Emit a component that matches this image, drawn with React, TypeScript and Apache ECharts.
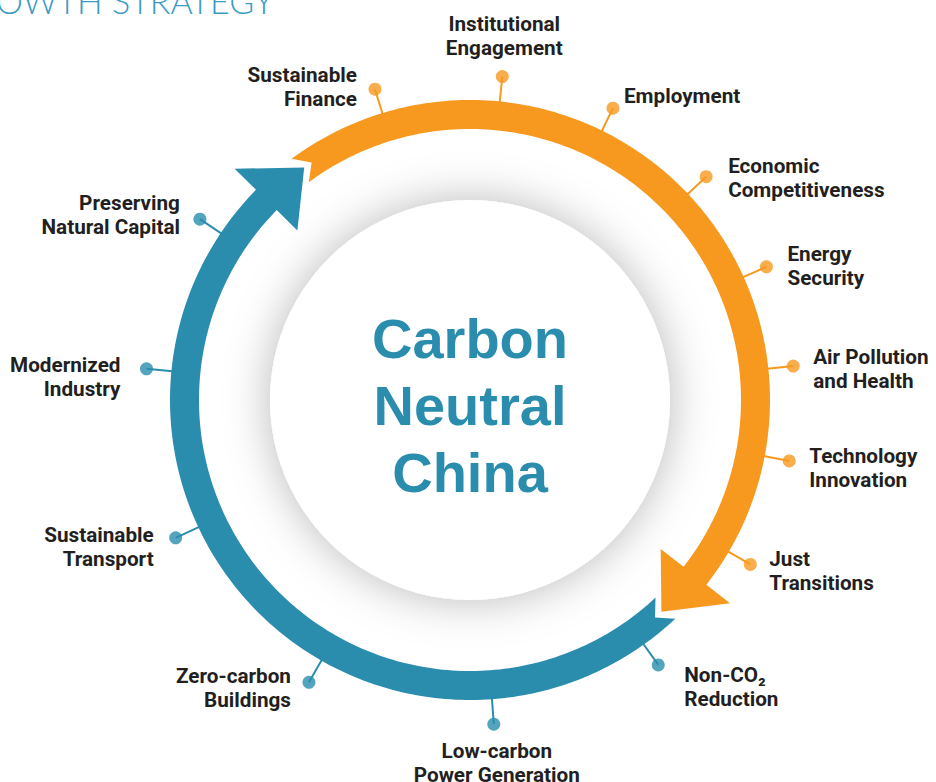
import React, { useEffect, useRef } from "react";
import * as echarts from "echarts";

// ---- data ----
const itemLabels = [
  "Institutional\nEngagement",
  "Employment",
  "Economic\nCompetitiveness",
  "Energy\nSecurity",
  "Air Pollution\nand Health",
  "Technology\nInnovation",
  "Just\nTransitions",
  "Non-CO₂\nReduction",
  "Low-carbon\nPower Generation",
  "Zero-carbon\nBuildings",
  "Sustainable\nTransport",
  "Modernized\nIndustry",
  "Preserving\nNatural Capital",
  "Sustainable\nFinance",
];
// angle of each item around the wheel (degrees, counter-clockwise from 3 o'clock)
const itemAngles = [84.3, 63.9, 43.4, 24.2, 6.0, -10.8, -30.4, -54.6, -85.8, -119.7, -154.9, 174.5, 146.2, 107.0];
// which arc each item belongs to (0 = orange arc, 1 = teal arc)
const itemArc = [0, 0, 0, 0, 0, 0, 0, 1, 1, 1, 1, 1, 1, 0];

// arcs (travel clockwise from tail to head)
const arcTail = [126.5, -46.8];
const arcHeadBase = [-38.0, -224.5];
const arcHeadTip = [-47.9, -234.5];

const centerLines = ["Carbon", "Neutral", "China"];
const titleText = "GROWTH STRATEGY";

// ---- styles / geometry ----
const COLORS = ["#F7991F", "#2B8DAE"];
const TEXT = "#231F20";
const R_IN = 271;
const R_OUT = 300;
const R_MID = 285.5;
const R_WING_IN = 242;
const R_WING_OUT = 330;
const R_DOT = 325;
const NOTCH = 2.8;
const CX = 470;
const CY = 400;
const POLAR_R = 340;

// label placement relative to the dot: [align, dx, dy]
const labelPlace: [string, number, number][] = [
  ["center", 2, -41],
  ["left", 11, -12],
  ["left", 22, 1],
  ["left", 21, -1],
  ["left", 20, 3],
  ["left", 20, 7],
  ["left", 19, 7],
  ["left", 26, 22],
  ["center", 3, 39],
  ["right", -18, 6],
  ["right", -22, 9],
  ["right", -26, 8],
  ["right", -20, -4],
  ["right", -18, -2],
];

const norm = (a: number) => ((a % 360) + 360) % 360;
const LABEL_FONT = "Roboto, 'Noto Sans', sans-serif";

export default function App() {
  const ref = useRef<HTMLDivElement>(null);
  useEffect(() => {
    if (!ref.current) return;
    const chart = echarts.init(ref.current, undefined, { renderer: "svg" });
    const option: any = {
      animation: false,
      backgroundColor: "#ffffff",
      polar: { center: [CX, CY], radius: POLAR_R },
      radiusAxis: { type: "value", min: 0, max: POLAR_R, show: false },
      angleAxis: {
        type: "value",
        min: 0,
        max: 360,
        startAngle: 0,
        clockwise: false,
        show: false,
      },
      graphic: [
        {
          type: "circle",
          z: 0,
          shape: { cx: CX, cy: CY, r: 200 },
          style: {
            fill: "#ffffff",
            shadowColor: "rgba(0,0,0,0.28)",
            shadowBlur: 45,
          },
        },
        {
          type: "text",
          z: 10,
          x: CX,
          y: 405,
          style: {
            text: centerLines.join("\n"),
            align: "center",
            verticalAlign: "middle",
            fontFamily: "'Liberation Sans', Arial, sans-serif",
            fontWeight: "bold",
            fontSize: 56,
            lineHeight: 67,
            fill: "#2B8DAE",
          },
        },
        {
          type: "text",
          z: 10,
          x: 274,
          y: 0,
          style: {
            text: titleText,
            align: "right",
            verticalAlign: "middle",
            fontFamily: "Lato, 'Open Sans', sans-serif",
            fontWeight: 300,
            fontSize: 34,
            fill: "#3A9CC3",
          },
        },
      ],
      series: [
        {
          type: "custom",
          name: "arcs",
          coordinateSystem: "polar",
          z: 3,
          data: arcTail.map((t) => [R_MID, norm(t)]),
          renderItem: (params: any, api: any) => {
            const i = params.dataIndex;
            const T = arcTail[i];
            const B = arcHeadBase[i];
            const P = arcHeadTip[i];
            const n = Math.ceil(Math.abs(B - T));
            const pts: number[][] = [];
            for (let k = 0; k <= n; k++) pts.push(api.coord([R_OUT, norm(T + ((B - T) * k) / n)]));
            pts.push(api.coord([R_WING_OUT, norm(B)]));
            pts.push(api.coord([R_MID, norm(P)]));
            pts.push(api.coord([R_WING_IN, norm(B)]));
            for (let k = n; k >= 0; k--) pts.push(api.coord([R_IN, norm(T + ((B - T) * k) / n)]));
            pts.push(api.coord([R_MID, norm(T - NOTCH)]));
            return {
              type: "polygon",
              shape: { points: pts },
              style: { fill: COLORS[i], stroke: null },
            };
          },
        },
        {
          type: "custom",
          name: "labels",
          coordinateSystem: "polar",
          z: 4,
          data: itemAngles.map((a) => [R_DOT, norm(a)]),
          renderItem: (params: any, api: any) => {
            const i = params.dataIndex;
            const a = norm(itemAngles[i]);
            const p0 = api.coord([R_OUT - 1, a]);
            const p1 = api.coord([R_DOT, a]);
            const [align, dx, dy] = labelPlace[i];
            return {
              type: "group",
              children: [
                {
                  type: "line",
                  shape: { x1: p0[0], y1: p0[1], x2: p1[0], y2: p1[1] },
                  style: { stroke: COLORS[itemArc[i]], lineWidth: 2 },
                },
                {
                  type: "text",
                  x: p1[0] + dx,
                  y: p1[1] + dy,
                  style: {
                    text: itemLabels[i],
                    align,
                    verticalAlign: "middle",
                    fontFamily: LABEL_FONT,
                    fontWeight: "bold",
                    fontSize: 20.7,
                    lineHeight: 24,
                    fill: TEXT,
                  },
                },
              ],
            };
          },
        },
        {
          type: "scatter",
          name: "dots",
          coordinateSystem: "polar",
          z: 5,
          symbol: "circle",
          symbolSize: 13,
          data: itemAngles.map((a, i) => ({
            value: [R_DOT, norm(a)],
            itemStyle: { color: COLORS[itemArc[i]] },
          })),
        },
      ],
    };
    chart.setOption(option);
    return () => chart.dispose();
  }, []);
  return (
    <div
      ref={ref}
      style={{ position: "absolute", left: 0, top: 0, width: 936, height: 782 }}
    />
  );
}
